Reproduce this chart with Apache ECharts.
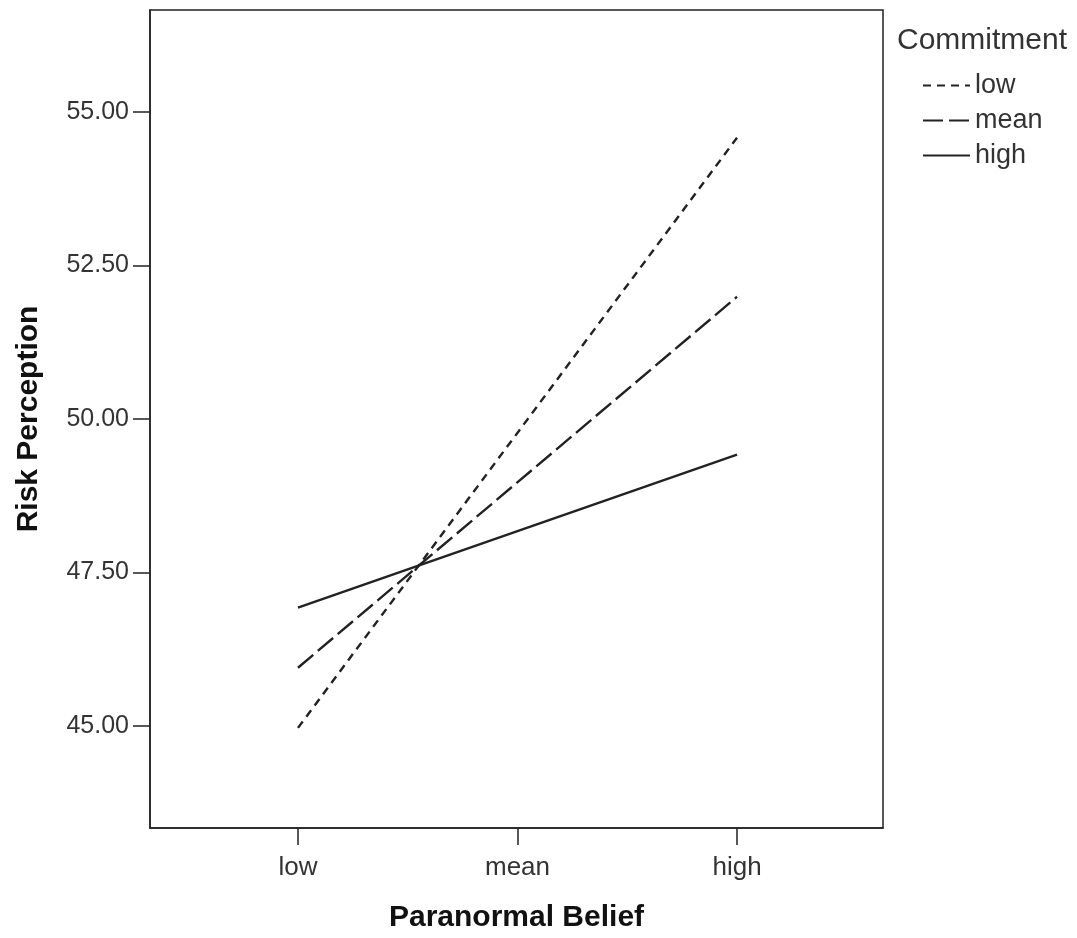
<!DOCTYPE html>
<html>
<head>
<meta charset="utf-8">
<script src="https://cdn.jsdelivr.net/npm/echarts@6/dist/echarts.min.js"></script>
<style>
  html, body { margin: 0; padding: 0; background: #fff; }
  #main { width: 1077px; height: 938px; }
</style>
</head>
<body>
<div id="main"></div>
<script>
    // x positions: low / mean / high of paranormal belief
    var beliefLevels = ['low', 'mean', 'high'];
    var commitmentGroups = ['low', 'mean', 'high'];
    // risk perception at low and high paranormal belief, per commitment group
    var lowCommitment = [44.97, 54.58];
    var meanCommitment = [45.95, 51.99];
    var highCommitment = [46.93, 49.42];
    var yTicks = [45, 47.5, 50, 52.5, 55];

    var ink = '#222';
    var font = '"Liberation Sans", Arial, sans-serif';

    function toPoints(vals) {
        // first value at "low" (0), last at "high" (2)
        return [[0, vals[0]], [beliefLevels.length - 1, vals[1]]];
    }

    function mkSeries(name, vals, dash) {
        return {
            name: name,
            type: 'line',
            symbol: 'none',
            silent: true,
            itemStyle: { color: ink },
            lineStyle: { color: ink, width: 2.4, type: dash },
            data: toPoints(vals)
        };
    }

    var chart = echarts.init(document.getElementById('main'));
    var option = {
        animation: false,
        backgroundColor: '#fff',
        textStyle: { fontFamily: font },
        grid: {
            left: 150, right: 194, top: 10, bottom: 108,
            show: true, borderColor: ink, borderWidth: 1.5
        },
        title: {
            text: 'Commitment',
            left: 897, top: 26,
            padding: 0,
            textStyle: { fontFamily: font, fontSize: 30, fontWeight: 'normal', color: '#333' }
        },
        legend: {
            orient: 'vertical',
            left: 922, top: 72,
            padding: 0,
            itemWidth: 47, itemHeight: 12,
            itemGap: 8,
            data: commitmentGroups,
            itemStyle: { opacity: 0 },
            textStyle: { fontFamily: font, fontSize: 27, color: '#333' },
            selectedMode: false
        },
        xAxis: {
            type: 'value',
            min: -0.674, max: 2.665,
            axisLine: { show: true, onZero: false, lineStyle: { color: ink, width: 1.5 } },
            axisTick: { show: true, length: 17, lineStyle: { color: ink, width: 1.5 }, customValues: [0, 1, 2] },
            axisLabel: {
                customValues: [0, 1, 2],
                margin: 27, fontSize: 26, color: '#333', fontFamily: font,
                formatter: function (v) { return beliefLevels[Math.round(v)]; }
            },
            splitLine: { show: false },
            name: 'Paranormal Belief',
            nameLocation: 'middle',
            nameGap: 75,
            nameTextStyle: { fontSize: 30, fontWeight: 'bold', color: '#111', fontFamily: font }
        },
        yAxis: {
            type: 'value',
            min: 43.34, max: 56.66,
            axisLine: { show: true, onZero: false, lineStyle: { color: ink, width: 1.5 } },
            axisTick: { show: true, length: 17, lineStyle: { color: ink, width: 1.5 }, customValues: yTicks },
            axisLabel: {
                customValues: yTicks,
                margin: 21, fontSize: 25, color: '#333', fontFamily: font,
                formatter: function (v) { return v.toFixed(2); }
            },
            splitLine: { show: false },
            name: 'Risk Perception',
            nameLocation: 'middle',
            nameGap: 106,
            nameTextStyle: { fontSize: 30, fontWeight: 'bold', color: '#111', fontFamily: font }
        },
        series: [
            mkSeries(commitmentGroups[0], lowCommitment, [8, 6]),
            mkSeries(commitmentGroups[1], meanCommitment, [20, 6]),
            mkSeries(commitmentGroups[2], highCommitment, 'solid')
        ]
    };
    chart.setOption(option);
</script>
</body>
</html>
